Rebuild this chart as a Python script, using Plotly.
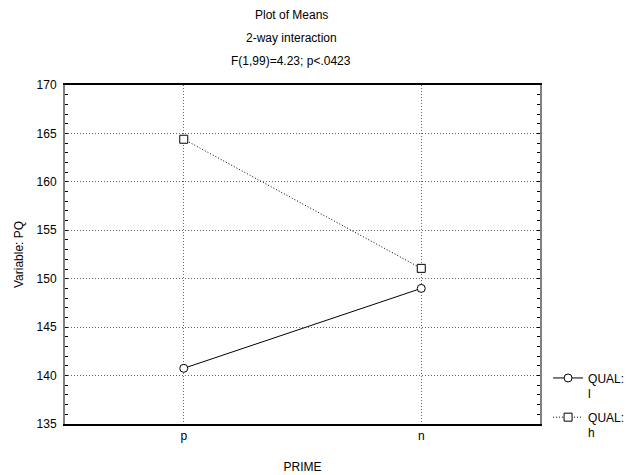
import plotly.graph_objects as go

categories = ["p", "n"]
qual_l = [140.75, 149.0]
qual_h = [164.4, 151.07]
series_names = ["QUAL:<br>l", "QUAL:<br>h"]
title_lines = ["Plot of Means", "2-way interaction", "F(1,99)=4.23; p<.0423"]
title_y = [1.207, 1.139, 1.072]

FONT = "Liberation Sans, Arial, sans-serif"

fig = go.Figure()
fig.add_trace(go.Scatter(
    x=categories, y=qual_l, name=series_names[0], mode="lines+markers", legendgroup="l",
    line=dict(color="black", width=1, dash="solid"),
    marker=dict(symbol="circle", size=8, color="white", line=dict(color="black", width=1)),
))
fig.add_trace(go.Scatter(
    x=categories, y=qual_h, name=series_names[1], mode="lines+markers", legendgroup="h",
    line=dict(color="black", width=1, dash="1px,2px"),
    marker=dict(symbol="square", size=8, color="white", line=dict(color="black", width=1)),
))

for txt, yy in zip(title_lines, title_y):
    fig.add_annotation(text=txt, xref="paper", yref="paper", x=0.476, y=yy,
                       xanchor="center", yanchor="middle", showarrow=False,
                       font=dict(family=FONT, size=12, color="black"))

fig.update_layout(
    width=644, height=475,
    margin=dict(l=65, r=104, t=85, b=51),
    paper_bgcolor="white", plot_bgcolor="white",
    font=dict(family=FONT, size=12, color="black"),
    showlegend=True,
    legend=dict(x=1.017, xanchor="left", y=0.178, yanchor="top", bgcolor="rgba(0,0,0,0)",
                font=dict(size=12), valign="top", itemwidth=30, tracegroupgap=5),
)
fig.update_xaxes(
    type="category", range=[-0.5, 1.5], automargin=False,
    showline=True, linecolor="black", linewidth=1.5, mirror=True,
    showgrid=True, gridcolor="#666", griddash="1px,2px", gridwidth=1,
    ticks="", tickfont=dict(size=12),
    title=dict(text="PRIME", font=dict(size=12), standoff=20),
)
fig.update_yaxes(
    range=[135, 170], dtick=5, tick0=135, automargin=False,
    showline=True, linecolor="#808080", linewidth=2, mirror="ticks",
    showgrid=True, gridcolor="#666", griddash="1px,2px", gridwidth=1,
    ticks="inside", ticklen=3, tickcolor="black", ticklabelstandoff=4,
    minor=dict(dtick=1, ticks="inside", ticklen=3, tickcolor="black", showgrid=False),
    zeroline=False,
    tickfont=dict(size=12),
    title=dict(text="Variable: PQ", font=dict(size=12), standoff=10),
)
fig.write_html("out.html", config={"displayModeBar": False},
               post_script="document.body.style.margin='0';")
